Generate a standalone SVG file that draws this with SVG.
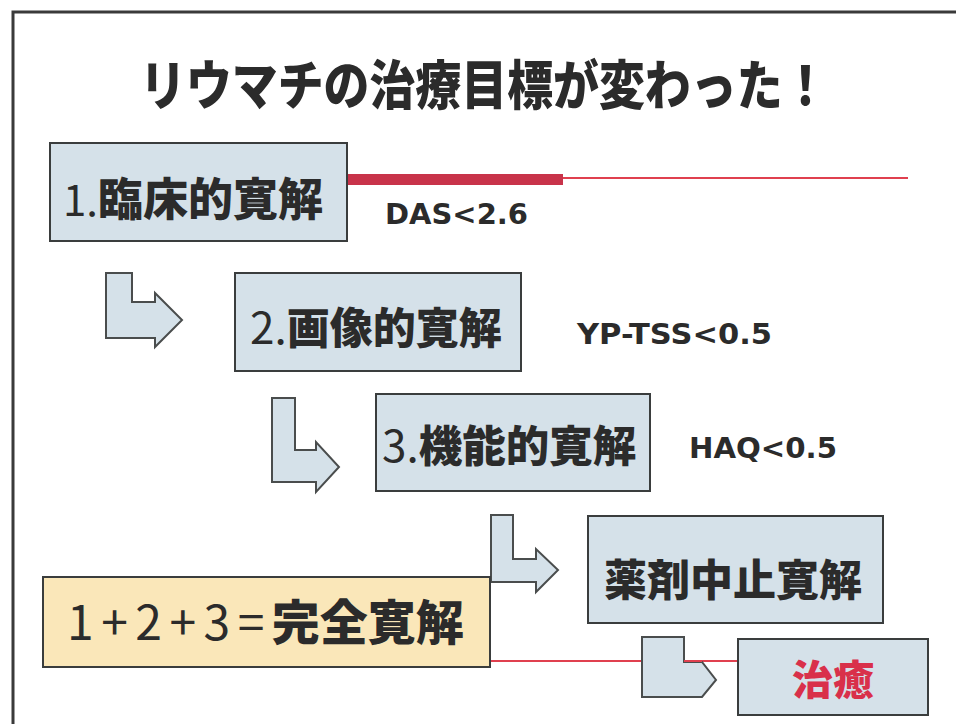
<svg xmlns="http://www.w3.org/2000/svg" width="956" height="724" viewBox="0 0 956 724">
<style>
.box{fill:#d5e1e9;stroke:#3a3d3d;stroke-width:2}
.ybox{fill:#fae7b9;stroke:#3a3d3d;stroke-width:2}
.arr{fill:#d5e1e9;stroke:#4a4d4d;stroke-width:2;stroke-linejoin:miter}
.t{font-family:"Noto Sans CJK JP",sans-serif;fill:#2b2b2b}
.num{font-weight:400}
.cjk{font-family:"Noto Sans CJK JP",sans-serif;font-weight:900;fill:#2b2b2b}
.lbl{font-family:"DejaVu Sans","Liberation Sans",sans-serif;font-weight:bold;fill:#2b2b2b}
</style>
<rect x="0" y="0" width="956" height="724" fill="#ffffff"/>
<path d="M13,724 V12 H956" fill="none" stroke="#3a3a3a" stroke-width="3"/>
<g id="title">
<text class="cjk" transform="translate(140,105) scale(0.85,1)" x="0" y="0" font-size="54">リウマチの治療目標が変わった！</text>
</g>
<g id="connectors">
<rect x="347" y="174" width="216" height="11" fill="#c8334a"/>
<line x1="563" y1="178" x2="908" y2="178" stroke="#e0404f" stroke-width="2"/>
<line x1="490" y1="661" x2="738" y2="661" stroke="#e0404f" stroke-width="2"/>
<path class="arr" d="M106,273 H132 V302 H155 V293 L182,320 L155,347 V338 H106 Z"/>
<path class="arr" d="M272,398 H295 V450 H316 V442 L339,467 L316,492 V482 H272 Z"/>
<path class="arr" d="M491,515 H513 V559 H536 V549 L558,570 L536,592 V582 H491 Z"/>
<path class="arr" d="M642,637 H684 V662 H702 L716,680 L702,697 H642 Z"/>
<line x1="684" y1="661" x2="702" y2="661" stroke="#e0404f" stroke-width="2"/>
</g>
<g id="n1">
<rect class="box" x="50" y="143" width="297" height="98"/>
<text class="t" x="63" y="216"><tspan class="num" font-size="42">1.</tspan><tspan font-weight="900" font-size="45">臨床的寛解</tspan></text>
</g>
<g id="l1"><text class="lbl" x="385" y="224" font-size="28" textLength="143" lengthAdjust="spacingAndGlyphs">DAS&lt;2.6</text></g>
<g id="n2">
<rect class="box" x="235" y="273" width="286" height="98"/>
<text class="t" x="250" y="344"><tspan class="num" font-size="44">2.</tspan><tspan font-weight="900" font-size="43">画像的寛解</tspan></text>
</g>
<g id="l2"><text class="lbl" x="577" y="344" font-size="28" textLength="195" lengthAdjust="spacingAndGlyphs">YP-TSS&lt;0.5</text></g>
<g id="n3">
<rect class="box" x="376" y="394" width="274" height="97"/>
<text class="t" x="382" y="462"><tspan class="num" font-size="44">3.</tspan><tspan font-weight="900" font-size="43.5">機能的寛解</tspan></text>
</g>
<g id="l3"><text class="lbl" x="689" y="458" font-size="28" textLength="148" lengthAdjust="spacingAndGlyphs">HAQ&lt;0.5</text></g>
<g id="n4">
<rect class="box" x="588" y="516" width="295" height="107"/>
<text class="cjk" x="604" y="596" font-size="43">薬剤中止寛解</text>
</g>
<g id="n5">
<rect class="ybox" x="43" y="577" width="447" height="90"/>
<text class="t" x="67" y="640"><tspan class="num" font-size="48" letter-spacing="7.5">1+2+3=</tspan><tspan font-weight="900" font-size="48">完全寛解</tspan></text>
</g>
<g id="n6">
<rect class="box" x="738" y="639" width="190" height="76"/>
<text class="cjk" x="792" y="695" font-size="41" style="fill:#d9304a">治癒</text>
</g>
</svg>
